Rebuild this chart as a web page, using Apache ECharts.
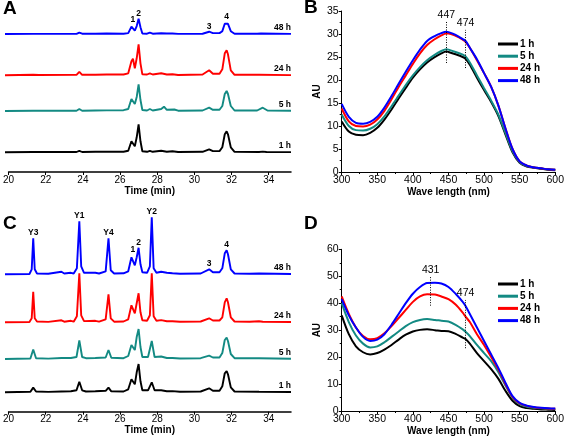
<!DOCTYPE html>
<html><head><meta charset="utf-8">
<script src="https://cdn.jsdelivr.net/npm/echarts@6/dist/echarts.min.js"></script>
<style>html,body{margin:0;padding:0;background:#fff}#c{width:567px;height:438px}</style>
</head><body><div id="c"></div>
<script>
// ---------- data ----------
const traceNames = ['1 h', '5 h', '24 h', '48 h'];
const timeTicks = [20, 22, 24, 26, 28, 30, 32, 34];

// Panel A chromatograms [time (min), signal]
const chromA_1h = [[20,0],[21.5,0.3],[23.8,0.3],[23.95,1.5],[24.1,0.3],[24.8,0.5],[25.4,0.6],[25.5,0.3],[26.3,0.5],[26.55,1.5],[26.72,11],[26.8,13],[26.9,6],[27.0,15],[27.1,28],[27.2,11],[27.3,1],[27.55,0.5],[27.7,1.5],[27.85,0.5],[28.3,1.5],[28.6,0.6],[28.9,1],[29.2,0.3],[30.5,0.5],[30.85,3],[31.05,1.2],[31.4,1.2],[31.55,5],[31.68,18],[31.78,21],[31.85,18],[32.0,5],[32.2,0.5],[33.5,0.3],[33.7,0.7],[33.9,0.3],[35.2,0.2]];
const chromA_5h = [[20,0],[21.5,0.3],[23.8,0.3],[23.95,2],[24.1,0.3],[24.8,0.5],[25.4,0.6],[25.5,0.3],[26.3,0.8],[26.55,2],[26.72,12],[26.8,14],[26.9,7],[27.0,14],[27.1,26.7],[27.2,11],[27.3,1],[27.55,0.5],[27.7,2],[27.85,0.5],[28.3,2],[28.45,4.3],[28.6,1.2],[29.0,1.5],[29.2,0.3],[30.5,0.5],[30.85,3.3],[31.05,1.2],[31.4,1.2],[31.55,5],[31.68,17],[31.78,20],[31.85,17],[32.0,5],[32.2,0.5],[33.4,0.5],[33.7,3.3],[33.95,0.5],[35.2,0.2]];
const chromA_24h = [[20,0],[21.5,0.5],[21.8,0.3],[23.8,0.5],[23.95,3.5],[24.1,0.5],[24.8,0.5],[25.4,0.8],[25.5,0.3],[26.3,0.8],[26.55,2],[26.72,14],[26.8,16.5],[26.9,7],[27.0,17],[27.1,31],[27.2,12],[27.3,1],[27.55,0.8],[27.7,2],[27.85,0.8],[28.3,2],[28.6,0.8],[28.9,1],[29.2,0.3],[30.5,0.8],[30.85,5],[31.05,1.5],[31.4,1.5],[31.55,6],[31.68,22],[31.78,25],[31.85,21],[32.0,5],[32.2,0.5],[33.5,0.5],[35.2,0.2]];
const chromA_48h = [[20,0],[21.5,0.3],[23.8,0.3],[23.95,2.5],[24.1,0.5],[24.8,0.5],[25.4,0.8],[25.5,0.3],[26.3,0.5],[26.55,1.5],[26.72,13],[26.8,15],[26.9,6],[27.0,14],[27.1,27],[27.2,12],[27.3,1],[27.55,0.5],[27.7,2.5],[27.85,0.5],[28.3,1.2],[28.6,0.8],[28.9,1],[29.2,0.3],[30.5,0.5],[30.85,4],[31.05,1.5],[31.4,1.5],[31.55,5],[31.68,18],[31.78,21],[31.85,18],[32.0,5],[32.2,0.5],[33.4,0.5],[33.6,0.8],[35.2,0.3]];

// Panel C chromatograms [time (min), signal]
const chromC_1h = [[20,0],[21.35,0.5],[21.5,4.7],[21.65,0.8],[22.3,0.4],[23.0,0.8],[23.5,1],[23.8,2],[23.95,10.5],[24.1,2],[24.3,0.8],[24.8,1],[25.35,1.5],[25.5,4.7],[25.65,1],[26.3,0.8],[26.55,3],[26.72,13],[26.8,14.5],[26.9,8],[27.0,20],[27.1,28.3],[27.2,11],[27.3,2],[27.6,2],[27.8,10],[27.95,2],[28.3,2],[28.6,1],[28.9,1.2],[29.3,0.5],[30.4,0.8],[30.85,4],[31.05,1.5],[31.4,1.5],[31.55,6],[31.68,19],[31.78,21.3],[31.85,18],[32.0,5],[32.2,0.8],[33.5,0.5],[35.2,0.3]];
const chromC_5h = [[20,0],[21.35,0.5],[21.5,9.5],[21.65,0.8],[22.3,0.4],[23.0,1],[23.5,1],[23.8,2],[23.95,18.5],[24.1,2],[24.3,0.8],[24.8,1],[25.35,1.5],[25.5,9],[25.65,1.2],[26.3,0.8],[26.55,3],[26.72,14],[26.8,15.5],[26.9,9],[27.0,22],[27.1,30],[27.2,12],[27.3,2],[27.6,2],[27.8,18],[27.95,2],[28.3,2.5],[28.6,1],[28.9,1],[29.3,0.5],[30.4,0.8],[30.85,3.3],[31.05,1.5],[31.4,1.5],[31.55,6],[31.68,19],[31.78,21.3],[31.85,18],[32.0,5],[32.2,0.8],[33.5,0.8],[35.2,0.3]];
const chromC_24h = [[20,0],[21.3,0.3],[21.42,4],[21.5,30.5],[21.58,4],[21.7,0.8],[22.3,0.4],[23.0,2],[23.15,0.6],[23.5,1.5],[23.65,0.6],[23.82,6],[23.95,49],[24.05,7],[24.2,1.2],[24.8,1.5],[25.0,0.6],[25.35,3],[25.5,28],[25.62,4],[25.8,0.6],[26.3,0.8],[26.55,3],[26.72,17],[26.8,19],[26.9,9],[27.0,19],[27.1,29],[27.2,10],[27.3,2],[27.55,1.5],[27.7,7],[27.8,49],[27.9,6],[28.05,1.5],[28.3,2.2],[28.6,1],[28.9,1],[29.3,0.5],[30.4,0.8],[30.85,4],[31.05,1.8],[31.4,1.8],[31.55,5],[31.68,20],[31.78,24],[31.85,20],[32.0,5],[32.2,0.8],[33.0,0.5],[33.5,1],[33.7,0.5],[35.2,0.3]];
const chromC_48h = [[20,0],[21.3,0.3],[21.42,5],[21.5,36],[21.58,5],[21.7,0.8],[22.3,0.5],[23.0,2.5],[23.15,0.8],[23.5,1.5],[23.65,0.8],[23.82,6],[23.95,53],[24.05,8],[24.2,1.5],[24.8,1.5],[25.0,0.8],[25.35,3],[25.5,36],[25.62,4],[25.8,0.8],[26.3,1],[26.55,3],[26.72,17],[26.8,19],[26.9,9],[27.0,17],[27.1,26.5],[27.2,10],[27.3,2],[27.55,1.5],[27.7,8],[27.8,57],[27.9,6],[28.05,1.5],[28.3,2.5],[28.6,1.5],[28.9,1],[29.3,0.5],[30.4,0.8],[30.85,5],[31.05,2],[31.4,2],[31.55,6],[31.68,21],[31.78,24],[31.85,20],[32.0,5],[32.2,0.8],[33.0,0.5],[33.5,0.8],[35.2,0.3]];

const peaksA = [['1', 26.8], ['2', 27.1], ['3', 30.85], ['4', 31.78]];
const peaksC = [['Y3', 21.5], ['Y1', 23.95], ['Y4', 25.5], ['1', 26.8], ['2', 27.1], ['Y2', 27.8], ['3', 30.85], ['4', 31.78]];

// Panel B spectra
const wlB = [300,310,320,330,340,350,360,370,380,390,400,410,420,430,440,447,450,460,470,474,480,490,500,510,520,530,540,550,560,570,580,590,600];
const specB_1h  = [11,8.8,8.1,8,8.5,9.6,11.4,13.6,16,18.3,20.5,22.3,23.8,24.9,25.8,26.2,26.1,25.6,25,24.6,23.3,20.5,17.8,15.2,12.2,8.2,4.3,2,1.2,0.9,0.7,0.5,0.4];
const specB_5h  = [12.5,10,9.1,9,9.4,10.4,12.1,14.3,16.6,18.9,21,22.8,24.3,25.4,26.3,26.7,26.6,26.1,25.5,25.1,23.8,21,18.2,15.5,12.5,8.5,4.5,2.1,1.3,1,0.8,0.6,0.5];
const specB_24h = [13.8,11,10,9.9,10.3,11.4,13.3,15.8,18.5,21,23.5,25.8,27.6,28.8,29.7,30.1,30.1,29.6,28.8,28.3,27,24.3,21.5,18.5,14.5,9.5,5,2.3,1.4,1,0.8,0.6,0.5];
const specB_48h = [14.8,12,10.7,10.5,10.9,12,14,16.5,19.2,21.8,24.3,26.6,28.5,29.5,30.2,30.5,30.4,29.8,28.9,28.5,27,24.5,21.5,18.5,14.5,9.5,5,2.3,1.4,1,0.8,0.6,0.5];
const marksB = [{ text: '447', wl: 447, from: 23.7, to: 32.8 }, { text: '474', wl: 474, from: 22.6, to: 30.9 }];

// Panel D spectra
const wlD = [300,310,320,330,340,350,360,370,380,390,400,410,420,431,440,450,460,470,474,480,490,500,510,520,530,540,550,560,570,580,590,600];
const specD_1h  = [35.5,28.5,24,21.8,21,21.5,22.8,24.5,26.5,28.3,29.5,30.1,30.3,30,29.7,29.6,28.6,27.2,26.7,25,21.5,18.5,15.5,12,7.5,3.8,1.8,1.1,0.8,0.6,0.5,0.4];
const specD_5h  = [40,33,28,25,23.6,24,25.5,27.5,29.5,31.5,33,33.8,34.1,33.8,33.5,33.2,32,30.3,29.4,27.8,24.5,21.5,18.5,14.5,9.5,5,2.5,1.6,1.2,1,0.8,0.7];
const specD_24h = [42.5,36,31,27.8,26.6,27,28.8,31.5,34.5,37.5,40.5,42.5,43.3,43.2,42.5,41.5,39.5,36.5,35,33,28.5,24.5,20,15.5,10,5.2,2.8,1.9,1.4,1.1,0.9,0.8];
const specD_48h = [41.5,35.5,31,27.5,26,26.5,28.5,32,36,40,43.5,46,47.5,47.6,47.3,46,43.5,40.5,39,36,31,26,21,16,10.5,5.5,3,2,1.5,1.2,1,0.9];
const marksD = [{ text: '431', wl: 425, from: 39.1, to: 49.8 }, { text: '474', wl: 474, from: 23.3, to: 41.2 }];

// ---------- styling ----------
const colors = ['#000000', '#138a83', '#ff0000', '#0000ff'];
const FONT = 'Arial, "Liberation Sans", sans-serif';

const chart = echarts.init(document.getElementById('c'), null, { renderer: 'canvas' });

const grids = [], xAxes = [], yAxes = [], series = [];

function addGrid(g, xa, ya) {
  grids.push(g);
  const i = grids.length - 1;
  xAxes.push(Object.assign({ gridIndex: i }, xa));
  yAxes.push(Object.assign({ gridIndex: i }, ya));
  return i;
}

function timeAxisGrid(bottomY) {
  return addGrid({ left: 5, width: 286, top: bottomY - 150, height: 150 }, {
    type: 'value', min: 20, max: 35.2,
    axisLine: { lineStyle: { color: '#000', width: 1.5 } },
    axisTick: { customValues: timeTicks, length: 3, lineStyle: { color: '#000' } },
    axisLabel: { customValues: timeTicks, color: '#000', fontSize: 10, fontFamily: FONT, margin: 3 },
    splitLine: { show: false },
    name: 'Time (min)', nameLocation: 'middle', nameGap: 14,
    nameTextStyle: { color: '#000', fontSize: 10, fontWeight: 'bold', fontFamily: FONT }
  }, { type: 'value', min: 0, max: 1, show: false });
}

function traceGrid(baselineY) {
  return addGrid({ left: 5, width: 286, top: baselineY - 60, height: 60 },
    { type: 'value', min: 20, max: 35.2, show: false },
    { type: 'value', min: 0, max: 60, show: false });
}

function chromSeries(idx, data, k, peaks) {
  const mp = [{ coord: [35.2, 0], value: traceNames[k],
    label: { position: [0, 0], align: 'right', verticalAlign: 'bottom', offset: [0, -2], formatter: traceNames[k] } }];
  if (peaks) {
    peaks.forEach(([txt, t]) => {
      const pt = data.find(p => p[0] === t);
      mp.push({ coord: [t, pt[1]], value: txt,
        label: { position: [0, 0], align: 'center', verticalAlign: 'bottom', offset: [0, -1], formatter: txt } });
    });
  }
  series.push({
    type: 'line', name: 'chrom ' + traceNames[k], xAxisIndex: idx, yAxisIndex: idx,
    data: data, showSymbol: false, symbol: 'none', clip: false, silent: true,
    lineStyle: { color: colors[k], width: 1.9 }, itemStyle: { color: colors[k] },
    markPoint: { symbol: 'circle', symbolSize: 0, silent: true, animation: false,
      label: { show: true, color: '#000', fontSize: 8.5, fontWeight: 'bold', fontFamily: FONT },
      data: mp }
  });
}

function specGrid(top, height, ymax, yint) {
  return addGrid({ left: 341.7, width: 217.3, top: top, height: height }, {
    type: 'value', min: 300, max: 600, interval: 50,
    axisLine: { lineStyle: { color: '#000', width: 1 } },
    axisTick: { length: 3, lineStyle: { color: '#000' } },
    minorTick: { show: true, splitNumber: 2, length: 2, lineStyle: { color: '#000' } },
    axisLabel: { color: '#000', fontSize: 10.5, fontFamily: FONT, margin: 3 },
    splitLine: { show: false },
    name: 'Wave length (nm)', nameLocation: 'middle', nameGap: 14,
    nameTextStyle: { color: '#000', fontSize: 10, fontWeight: 'bold', fontFamily: FONT }
  }, {
    type: 'value', min: 0, max: ymax, interval: yint,
    axisLine: { show: true, lineStyle: { color: '#000', width: 1 } },
    axisTick: { show: true, length: 3, lineStyle: { color: '#000' } },
    minorTick: { show: true, splitNumber: 2, length: 2, lineStyle: { color: '#000' } },
    axisLabel: { color: '#000', fontSize: 10.5, fontFamily: FONT, margin: 3 },
    splitLine: { show: false },
    name: 'AU', nameLocation: 'middle', nameGap: 19, nameRotate: 90,
    nameTextStyle: { color: '#000', fontSize: 10, fontWeight: 'bold', fontFamily: FONT }
  });
}

function specSeries(idx, wl, vals, k, marks) {
  const s = {
    type: 'line', name: traceNames[k], xAxisIndex: idx, yAxisIndex: idx,
    data: wl.map((w, i) => [w, vals[i]]), showSymbol: false, symbol: 'none', smooth: 0.3,
    lineStyle: { color: colors[k], width: 2 }, itemStyle: { color: colors[k] }, silent: true
  };
  if (marks) {
    s.markLine = {
      symbol: 'none', silent: true, animation: false,
      lineStyle: { type: [1, 1.5], color: '#000', width: 1 },
      label: { show: true, position: 'end', distance: 1, color: '#000', fontSize: 10.5, fontFamily: FONT },
      data: marks.map(m => [{ coord: [m.wl, m.from], label: { formatter: m.text } }, { coord: [m.wl, m.to] }])
    };
  }
  series.push(s);
}

// Panel A
timeAxisGrid(172);
const baseA = [152.3, 111, 75.3, 34];
[chromA_1h, chromA_5h, chromA_24h, chromA_48h].forEach((d, k) => {
  const gi = traceGrid(baseA[k]);
  chromSeries(gi, d, k, k === 3 ? peaksA : null);
});

// Panel B
const gB = specGrid(11, 161, 35, 5);
[specB_1h, specB_5h, specB_24h, specB_48h].forEach((v, k) => specSeries(gB, wlB, v, k, k === 3 ? marksB : null));

// Panel C
timeAxisGrid(411.7);
const baseC = [392.3, 359, 322.3, 274.3];
[chromC_1h, chromC_5h, chromC_24h, chromC_48h].forEach((d, k) => {
  const gi = traceGrid(baseC[k]);
  chromSeries(gi, d, k, k === 3 ? peaksC : null);
});

// Panel D
const gD = specGrid(249.3, 161.7, 60, 10);
[specD_1h, specD_5h, specD_24h, specD_48h].forEach((v, k) => specSeries(gD, wlD, v, k, k === 3 ? marksD : null));

const legendBase = {
  orient: 'vertical', left: 498, padding: 0, itemGap: 0.2,
  icon: 'rect', itemWidth: 20, itemHeight: 3, selectedMode: false,
  data: traceNames,
  textStyle: { color: '#000', fontSize: 10, fontWeight: 'bold', fontFamily: FONT, lineHeight: 12, padding: [0, 0, 0, -3] }
};

const titleStyle = { color: '#000', fontSize: 19, fontWeight: 'bold', fontFamily: FONT };

chart.setOption({
  animation: false,
  backgroundColor: '#fff',
  title: [
    { text: 'A', left: 3, top: -1, padding: 0, textStyle: titleStyle },
    { text: 'B', left: 304, top: -2, padding: 0, textStyle: titleStyle },
    { text: 'C', left: 3, top: 214, padding: 0, textStyle: titleStyle },
    { text: 'D', left: 304, top: 214, padding: 0, textStyle: titleStyle }
  ],
  legend: [
    Object.assign({}, legendBase, { top: 38 }),
    Object.assign({}, legendBase, { top: 278 })
  ],
  grid: grids,
  xAxis: xAxes,
  yAxis: yAxes,
  series: series
});
</script>
</body></html>
